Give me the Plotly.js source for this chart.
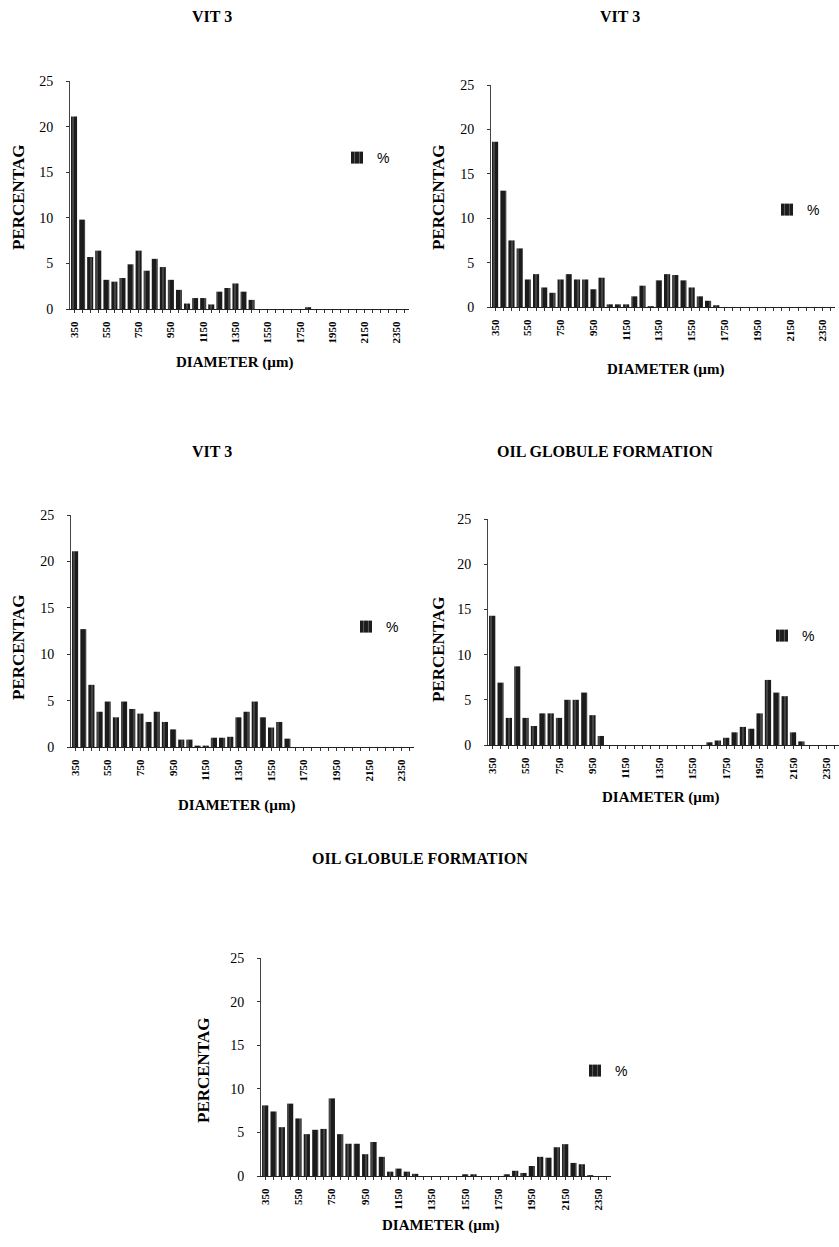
<!DOCTYPE html>
<html>
<head>
<meta charset="utf-8">
<script src="https://cdn.plot.ly/plotly-3.0.1.min.js"></script>
<style>
  html, body { margin: 0; padding: 0; background: #fff; }
  #chart { width: 839px; height: 1247px; }
</style>
</head>
<body>
<div id="chart"></div>
<script>
// ---- DATA ----
const diameters = [350,400,450,500,550,600,650,700,750,800,850,900,950,1000,1050,1100,1150,1200,1250,1300,
                   1350,1400,1450,1500,1550,1600,1650,1700,1750,1800,1850,1900,1950,2000,2050,2100,2150,2200,2250,2300,2350,2400];
const tickLabels = ['350','550','750','950','1150','1350','1550','1750','1950','2150','2350'];
const chartTitles = ['VIT 3','VIT 3','VIT 3','OIL GLOBULE FORMATION','OIL GLOBULE FORMATION'];
const seriesName = '%';
const xTitle = 'DIAMETER (µm)';
const yTitle = 'PERCENTAG';

const vit3A = [21.1, 9.8, 5.7, 6.4, 3.2, 3.0, 3.4, 4.9, 6.4, 4.2, 5.5, 4.6, 3.2, 2.1, 0.6, 1.2, 1.2, 0.5, 1.9, 2.3,
               2.8, 1.9, 1.0, 0, 0, 0, 0, 0, 0, 0.2, 0, 0, 0, 0, 0, 0, 0, 0, 0, 0, 0, 0];
const vit3B = [18.6, 13.1, 7.5, 6.6, 3.1, 3.7, 2.2, 1.6, 3.1, 3.7, 3.1, 3.1, 2.0, 3.3, 0.3, 0.3, 0.3, 1.2, 2.4, 0.1,
               3.0, 3.7, 3.6, 3.0, 2.2, 1.2, 0.7, 0.2, 0, 0, 0, 0, 0, 0, 0, 0, 0, 0, 0, 0, 0, 0];
const vit3C = [21.1, 12.7, 6.7, 3.8, 4.9, 3.2, 4.9, 4.1, 3.6, 2.7, 3.8, 2.7, 1.9, 0.8, 0.8, 0.15, 0.15, 1.0, 1.0, 1.1,
               3.2, 3.8, 4.9, 3.2, 2.1, 2.7, 0.9, 0, 0, 0, 0, 0, 0, 0, 0, 0, 0, 0, 0, 0, 0, 0];
const oilA  = [14.3, 6.9, 3.0, 8.7, 3.0, 2.1, 3.5, 3.5, 3.0, 5.0, 5.0, 5.8, 3.3, 1.0, 0, 0, 0, 0, 0, 0,
               0, 0, 0, 0, 0, 0, 0.3, 0.5, 0.8, 1.4, 2.0, 1.8, 3.5, 7.2, 5.8, 5.4, 1.4, 0.4, 0, 0, 0, 0];
const oilB  = [8.1, 7.4, 5.6, 8.3, 6.6, 4.8, 5.3, 5.4, 8.9, 4.8, 3.7, 3.7, 2.5, 3.9, 2.2, 0.5, 0.85, 0.5, 0.25, 0,
               0, 0, 0, 0, 0.2, 0.2, 0, 0, 0, 0.2, 0.6, 0.35, 1.15, 2.2, 2.1, 3.3, 3.65, 1.5, 1.35, 0.1, 0, 0];
const allSeries = [vit3A, vit3B, vit3C, oilA, oilB];

// ---- LAYOUT (pixel boxes converted to paper fractions) ----
const W = 839, H = 1247;
const px = v => v / W;
const py = v => 1 - v / H;
// [left, right, top(25), bottom(0)] in pixels
const boxes = [
  [70, 409, 81, 309],
  [491, 835, 85, 307],
  [71, 414, 515, 747],
  [488, 839, 519, 745],
  [261, 611, 958, 1176]
];
const titlePos = [[212, 17], [620, 17], [212, 452], [605, 452], [420, 858]];
const xTitlePos = [[234, 362], [665, 369], [236, 805], [660, 797], [440, 1225]];
const yTitlePos = [[18, 198], [438, 198], [18, 648], [438, 650], [203, 1071]];
const legendPos = [[337, 158], [767, 210], [346, 627], [762, 636], [575, 1071]];

const serif = 'Liberation Serif, Times New Roman, serif';
const catStr = diameters.map(String);
const tickText = catStr.map(c => tickLabels.includes(c) ? '<b>' + c + '</b>' : '');

const data = [];
const layout = {
  width: W, height: H,
  margin: {l: 0, r: 0, t: 0, b: 0},
  paper_bgcolor: '#fff', plot_bgcolor: 'rgba(0,0,0,0)',
  bargap: 0.25,
  font: {family: serif, color: '#000'},
  annotations: [], showlegend: true
};

allSeries.forEach((vals, i) => {
  const n = i === 0 ? '' : String(i + 1);
  const legendId = 'legend' + n;
  data.push({
    type: 'bar', x: catStr, y: vals, name: seriesName,
    xaxis: 'x' + n, yaxis: 'y' + n, legend: legendId,
    marker: {color: '#1c1c1c', line: {width: 0},
             pattern: {shape: '|', bgcolor: '#1c1c1c', fgcolor: '#8c8c8c', fillmode: 'replace',
                       size: 6, solidity: 0.12}},
    hoverinfo: 'x+y'
  });
  const b = boxes[i];
  layout['xaxis' + n] = {
    domain: [px(b[0]), px(b[1])], anchor: 'y' + n,
    type: 'category', range: [-0.5, diameters.length - 0.5],
    tickmode: 'array', tickvals: catStr, ticktext: tickText,
    tickangle: -90, ticks: 'outside', ticklen: 3, tickcolor: '#333',
    tickfont: {family: serif, size: 11, color: '#000'},
    ticklabelstandoff: 4,
    showline: true, linecolor: '#222', linewidth: 1,
    showgrid: false, zeroline: false, fixedrange: true
  };
  layout['yaxis' + n] = {
    domain: [py(b[3]), py(b[2])], anchor: 'x' + n,
    range: [0, 25], dtick: 5, tick0: 0,
    ticks: 'outside', ticklen: 3, tickcolor: '#333',
    tickfont: {family: serif, size: 14, color: '#000'},
    ticklabelstandoff: 10,
    showline: true, linecolor: '#444', linewidth: 1,
    showgrid: false, zeroline: false, fixedrange: true
  };
  const lp = legendPos[i];
  layout[legendId] = {
    x: px(lp[0]), y: py(lp[1]), xanchor: 'left', yanchor: 'middle',
    bgcolor: 'rgba(0,0,0,0)', borderwidth: 0, itemwidth: 30,
    font: {family: 'Liberation Sans, Arial, sans-serif', size: 14, color: '#000'}
  };
  layout.annotations.push({
    text: '<b>' + chartTitles[i] + '</b>', xref: 'paper', yref: 'paper',
    x: px(titlePos[i][0]), y: py(titlePos[i][1]), showarrow: false,
    xanchor: 'center', yanchor: 'middle', font: {family: serif, size: 16, color: '#000'}
  });
  layout.annotations.push({
    text: '<b>' + xTitle + '</b>', xref: 'paper', yref: 'paper',
    x: px(xTitlePos[i][0]), y: py(xTitlePos[i][1]), showarrow: false,
    xanchor: 'center', yanchor: 'middle', font: {family: serif, size: 15, color: '#000'}
  });
  layout.annotations.push({
    text: '<b>' + yTitle + '</b>', xref: 'paper', yref: 'paper', textangle: -90,
    x: px(yTitlePos[i][0]), y: py(yTitlePos[i][1]), showarrow: false,
    xanchor: 'center', yanchor: 'middle', font: {family: serif, size: 17, color: '#000'}
  });
});

Plotly.newPlot('chart', data, layout, {displayModeBar: false, staticPlot: true});
</script>
</body>
</html>
